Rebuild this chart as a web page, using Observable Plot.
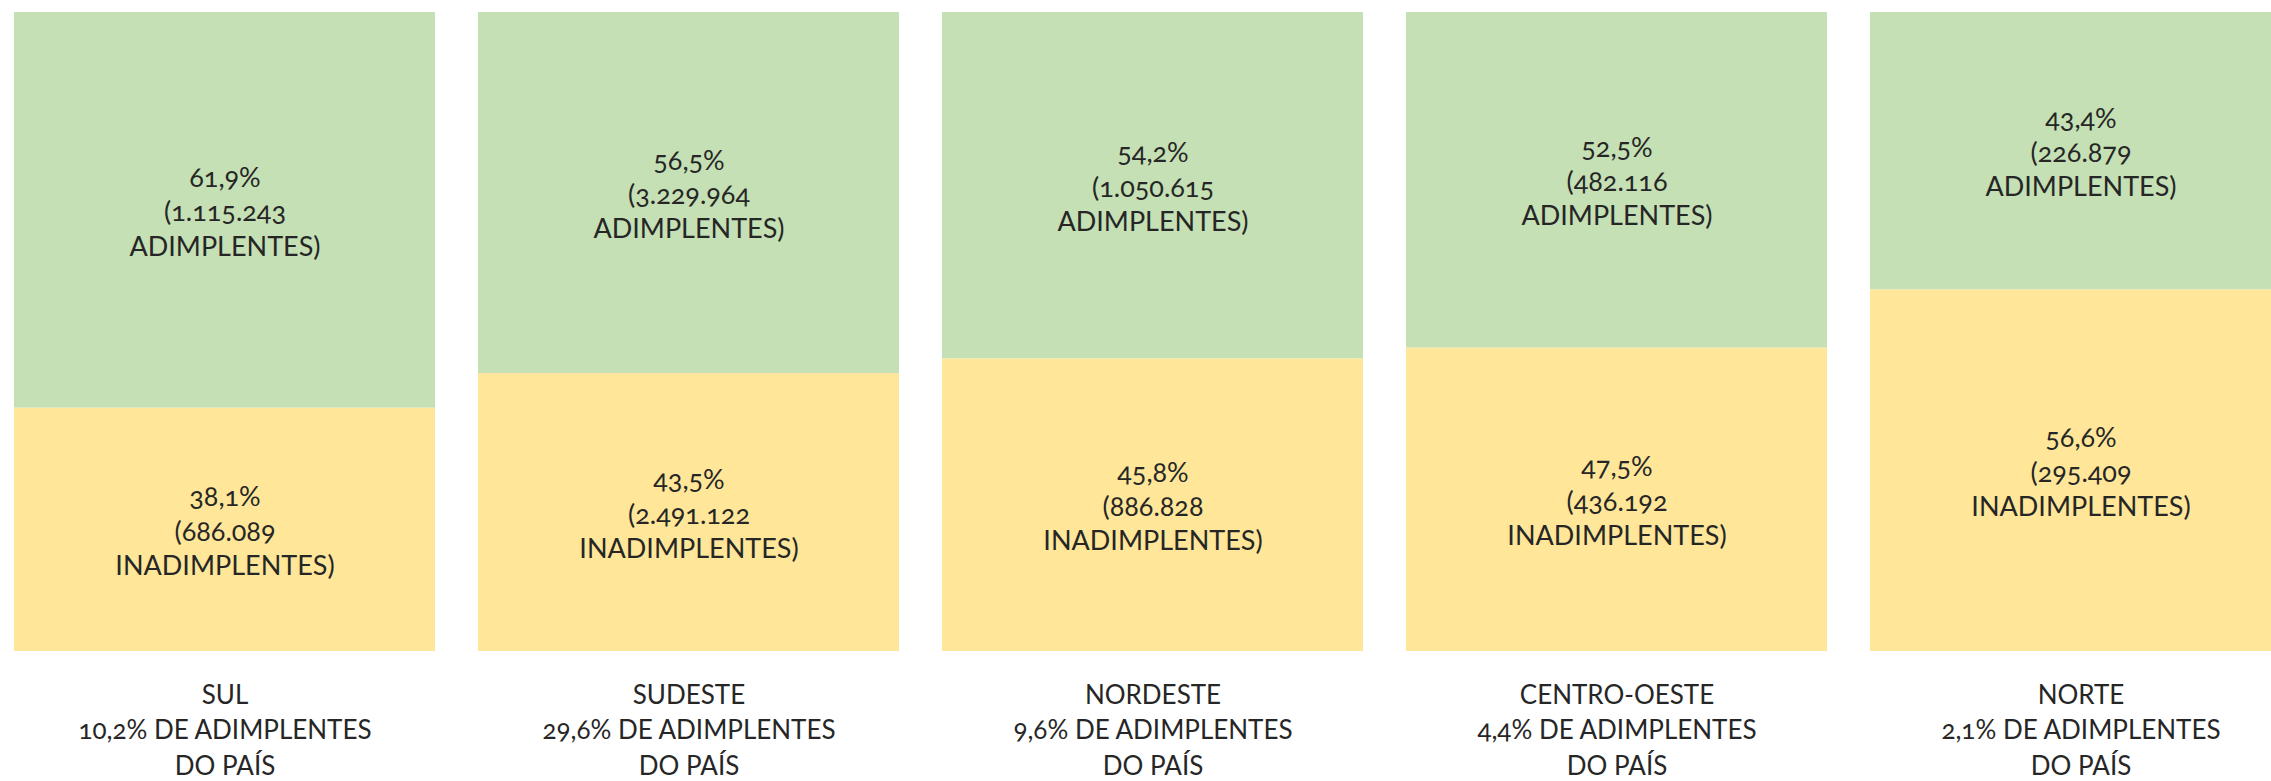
<!DOCTYPE html>
<html>
<head>
<meta charset="utf-8">
<script src="https://cdn.jsdelivr.net/npm/d3@7"></script>
<script src="https://cdn.jsdelivr.net/npm/@observablehq/plot@0.6"></script>
<style>
  html, body { margin: 0; padding: 0; background: #fff; overflow: hidden; }
  #chart svg { overflow: hidden; max-width: none; }
</style>
</head>
<body>
<div id="chart"></div>
<script>
const regions = ["SUL", "SUDESTE", "NORDESTE", "CENTRO-OESTE", "NORTE"];
const adimPct = [61.9, 56.5, 54.2, 52.5, 43.4];
const inadPct = [38.1, 43.5, 45.8, 47.5, 56.6];
const adimN = ["1.115.243", "3.229.964", "1.050.615", "482.116", "226.879"];
const inadN = ["686.089", "2.491.122", "886.828", "436.192", "295.409"];
const shareOfCountry = ["10,2%", "29,6%", "9,6%", "4,4%", "2,1%"];

const fmt = v => v.toFixed(1).replace(".", ",") + "%";

const rows = [];
regions.forEach((r, i) => {
  rows.push({region: r, status: "INADIMPLENTES", pct: inadPct[i],
    label: `${fmt(inadPct[i])}\n(${inadN[i]}\nINADIMPLENTES)`});
});
regions.forEach((r, i) => {
  rows.push({region: r, status: "ADIMPLENTES", pct: adimPct[i],
    label: `${fmt(adimPct[i])}\n(${adimN[i]}\nADIMPLENTES)`});
});
const footer = regions.map((r, i) => ({region: r, text: `${r}\n${shareOfCountry[i]} DE ADIMPLENTES\nDO PAÍS`}));

const font = "Lato, 'Open Sans', sans-serif";
const chart = Plot.plot({
  width: 2271,
  height: 781,
  marginTop: 0, marginBottom: 0, marginLeft: 0, marginRight: 0,
  style: {fontFamily: font, color: "#262626", background: "#fff", fontVariantNumeric: "oldstyle-nums"},
  x: {domain: regions, range: [12, 2293], paddingInner: 0.092, paddingOuter: 0, axis: null},
  y: {domain: [0, 100], range: [651, 12], axis: null},
  color: {domain: ["INADIMPLENTES", "ADIMPLENTES"], range: ["#FFE699", "#C5E0B4"]},
  marks: [
    Plot.barY(rows, Plot.stackY({x: "region", y: "pct", z: "status", fill: "status", order: null})),
    Plot.text(rows, Plot.stackY({x: "region", y: "pct", z: "status", order: null, text: "label",
      fontSize: 27, lineHeight: 1.27, lineAnchor: "middle", fill: "#262626"})),
    Plot.text(footer, {x: "region", text: "text", frameAnchor: "bottom", lineAnchor: "bottom",
      dy: -7, fontSize: 26, lineHeight: 1.36, fill: "#262626"})
  ]
});
document.getElementById("chart").appendChild(chart);
</script>
</body>
</html>
